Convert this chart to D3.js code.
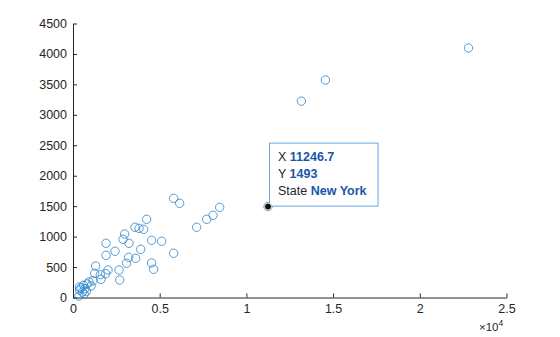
<!DOCTYPE html>
<html>
<head>
<meta charset="utf-8">
<script src="https://cdn.jsdelivr.net/npm/d3@7"></script>
<style>
  body { margin: 0; background: #fff; }
  svg { display: block; font-family: "Liberation Sans", Arial, sans-serif; }
</style>
</head>
<body>
<svg class="chart" width="560" height="337"></svg>
<script>
// scatter values
const xValues = [22806, 14556, 13171, 11246.7, 5804, 6150, 8458, 8077, 7708, 7131,
  4247, 3577, 3808, 4073, 2979, 2884, 3231, 4535, 5112, 3901,
  5804, 3209, 3613, 3094, 4535, 4652, 2654, 2692, 1904, 2423,
  1904, 1306, 2019, 1884, 1250, 1577, 1615, 1154, 923, 1038,
  808, 612, 462, 381, 692, 769, 537, 346, 646, 369];
const yValues = [4098, 3572, 3225, 1493, 1629, 1547, 1481, 1350, 1284, 1153,
  1284, 1153, 1136, 1120, 1043, 956, 890, 939, 923, 791,
  726, 660, 644, 562, 567, 463, 452, 287, 890, 759,
  693, 517, 452, 391, 397, 375, 298, 276, 255, 189,
  222, 200, 156, 123, 145, 102, 90, 25, 57, 172];

const xTicks = [0, 5000, 10000, 15000, 20000, 25000];
const yTicks = [0, 500, 1000, 1500, 2000, 2500, 3000, 3500, 4000, 4500];

// data tip
const tipIndex = 3;
const tipState = "New York";

const svg = d3.select(".chart");
const axisColor = "#262626";

const x = d3.scaleLinear().domain([0, 25000]).range([73, 506.5]);
const y = d3.scaleLinear().domain([0, 4500]).range([297.5, 23.5]);

var gx = svg.append("g")
    .attr("transform", "translate(0," + y(0) + ")")
    .call(d3.axisBottom(x).tickValues(xTicks).tickSizeInner(-4).tickSizeOuter(0)
        .tickPadding(7).tickFormat(d => d3.format("~g")(d / 1e4)));

var gy = svg.append("g")
    .attr("transform", "translate(" + x(0) + ",0)")
    .call(d3.axisLeft(y).tickValues(yTicks).tickSizeInner(-4).tickSizeOuter(0)
        .tickPadding(6).tickFormat(d3.format("d")));

[gx, gy].forEach(g => {
    g.select(".domain").attr("stroke", axisColor).attr("stroke-width", 1);
    g.selectAll(".tick line").attr("stroke", axisColor);
    g.selectAll(".tick text").attr("fill", axisColor)
        .style("font-size", "12.5px").style("font-family", "Liberation Sans, Arial, sans-serif");
});

// exponent label
var expo = svg.append("text")
    .attr("x", 479)
    .attr("y", 331)
    .attr("fill", axisColor)
    .style("font-size", "11.5px");
expo.append("tspan").text("\u00d710");
expo.append("tspan").attr("dy", -5).style("font-size", "8.5px").text("4");

// markers
svg.append("g")
    .selectAll("circle")
    .data(xValues.map((v, i) => [v, yValues[i]]))
    .enter()
    .append("circle")
    .attr("cx", d => x(d[0]))
    .attr("cy", d => y(d[1]))
    .attr("r", 4.2)
    .attr("fill", "none")
    .attr("stroke", "#2a84cc")
    .attr("stroke-width", 0.8);

// data tip box
var px = x(xValues[tipIndex]);
var py = y(yValues[tipIndex]);
var tip = svg.append("g");
tip.append("rect")
    .attr("x", px + 1.5)
    .attr("y", py - 63.5)
    .attr("width", 108.5)
    .attr("height", 63)
    .attr("fill", "#fff")
    .attr("stroke", "#6aa8e6")
    .attr("stroke-width", 1);

var lines = [
    ["X ", d3.format("")(xValues[tipIndex])],
    ["Y ", String(yValues[tipIndex])],
    ["State ", tipState]
];
lines.forEach((l, i) => {
    var t = tip.append("text")
        .attr("x", px + 10)
        .attr("y", py - 46 + i * 17)
        .style("font-size", "12.5px")
        .attr("fill", axisColor);
    t.append("tspan").text(l[0]);
    t.append("tspan").attr("fill", "#1a56a8").style("font-weight", "bold").text(l[1]);
});

tip.append("circle")
    .attr("cx", px)
    .attr("cy", py)
    .attr("r", 3.5)
    .attr("fill", "#111")
    .attr("stroke", "#e8e6c8")
    .attr("stroke-width", 1);
</script>
</body>
</html>
